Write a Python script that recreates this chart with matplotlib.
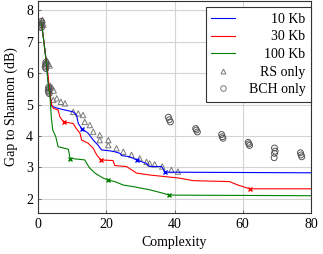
import matplotlib
matplotlib.use("Agg")
import matplotlib.pyplot as plt
from matplotlib.lines import Line2D

plt.rcParams['font.family'] = ['Liberation Serif', 'DejaVu Serif']
plt.rcParams['font.size'] = 10

# ---- data ----
blue_x = [1.0, 1.5, 2.5, 2.8, 3.3, 4.0, 5.9, 10.3, 11.3, 11.8, 12.8, 14.7, 16.2, 17.6, 18.6,
          21.0, 22.5, 24.0, 24.5, 26.9, 28.9, 31.8, 32.7, 36.2, 37.3, 80.0]
blue_y = [7.6, 7.2, 6.3, 5.9, 5.5, 4.95, 4.88, 4.77, 4.67, 4.40, 4.24, 4.09, 3.87, 3.71, 3.56,
          3.53, 3.50, 3.45, 3.38, 3.34, 3.24, 3.13, 3.03, 3.03, 2.85, 2.83]

red_x = [1.0, 1.5, 2.5, 3.0, 3.3, 4.0, 4.5, 5.9, 6.4, 7.5, 10.3, 11.2, 12.3, 12.8, 14.7, 16.2,
         17.2, 18.4, 22.0, 22.5, 25.9, 28.9, 32.7, 41.5, 45.4, 56.1, 58.6, 62.0, 80.0]
red_y = [7.6, 7.2, 6.3, 5.9, 5.5, 5.0, 4.88, 4.83, 4.61, 4.45, 4.40, 4.24, 4.09, 3.87, 3.77, 3.61,
         3.40, 3.24, 3.22, 3.06, 3.03, 2.82, 2.76, 2.66, 2.58, 2.55, 2.44, 2.32, 2.32]

green_x = [1.0, 1.5, 2.5, 3.0, 3.5, 3.9, 4.3, 5.2, 5.9, 8.9, 9.4, 13.7, 15.0, 16.7, 19.1, 20.6,
           22.5, 25.0, 27.9, 32.7, 36.6, 38.3, 80.0]
green_y = [7.6, 7.2, 6.3, 5.6, 5.3, 4.6, 4.2, 3.98, 3.66, 3.58, 3.29, 3.24, 3.0, 2.82, 2.66, 2.60,
           2.55, 2.44, 2.39, 2.29, 2.18, 2.12, 2.10]

blue_mx = [12.8, 28.9, 37.3]
blue_my = [4.24, 3.24, 2.85]
red_mx = [7.5, 18.4, 62.0]
red_my = [4.45, 3.24, 2.32]
green_mx = [9.4, 20.6, 38.3]
green_my = [3.28, 2.60, 2.12]

rs_x = [1.0, 1.3, 1.6, 2.6, 3.0, 3.4, 3.6, 4.1, 4.6, 4.5, 5.5, 6.7, 7.9, 10.3, 11.8, 13.2,
        13.7, 15.2, 16.2, 18.1, 18.1, 20.6, 20.6, 23.0, 25.0, 27.4, 29.8, 31.8, 32.7, 34.2,
        36.4, 39.1, 41.0]
rs_y = [7.6, 7.7, 7.55, 6.4, 6.3, 6.25, 5.6, 5.55, 5.45, 5.15, 5.2, 5.09, 5.04, 4.77, 4.72, 4.67,
        4.45, 4.35, 4.14, 4.03, 3.87, 3.87, 3.71, 3.61, 3.50, 3.40, 3.29, 3.18, 3.13, 3.10,
        3.03, 2.92, 2.87]

bch_x = [0.8, 0.9, 1.0, 1.1, 1.0, 2.1, 2.2, 2.3, 2.4, 2.3, 3.0, 3.1, 3.2, 3.3, 3.1,
         38.2, 38.5, 38.8, 46.2, 46.4, 46.7, 53.8, 54.0, 54.2, 61.6, 61.8, 62.0,
         69.3, 69.5, 69.3, 69.2, 76.9, 77.1, 77.3]
bch_y = [7.5, 7.55, 7.65, 7.6, 7.45, 6.2, 6.25, 6.35, 6.3, 6.15, 5.45, 5.55, 5.5, 5.35, 5.4,
         4.6, 4.52, 4.45, 4.24, 4.19, 4.13, 4.05, 3.98, 3.93, 3.8, 3.75, 3.7,
         3.62, 3.52, 3.45, 3.31, 3.47, 3.40, 3.34]

labels = ["10 Kb", "30 Kb", "100 Kb", "RS only", "BCH only"]

# ---- figure ----
fig = plt.figure(figsize=(3.23, 2.54), dpi=100)
ax = fig.add_axes([38 / 323, 1 - 213 / 254, (311 - 38) / 323, (213 - 1) / 254])

grey = '#7a7a7a'
ax.scatter(rs_x, rs_y, marker='^', s=15, facecolors='none', edgecolors=grey, linewidths=0.7, zorder=2)
ax.scatter(bch_x, bch_y, marker='o', s=18, facecolors='none', edgecolors='#555555', linewidths=0.7, zorder=2)

ax.plot(blue_x, blue_y, color='#0000ff', lw=0.8, zorder=3)
ax.plot(red_x, red_y, color='#ff0000', lw=0.8, zorder=3)
ax.plot(green_x, green_y, color='#008000', lw=0.8, zorder=3)
ax.plot(blue_mx, blue_my, ls='none', marker='x', ms=3.5, mew=1.0, color='#0000ff', zorder=4)
ax.plot(red_mx, red_my, ls='none', marker='x', ms=3.5, mew=1.0, color='#ff0000', zorder=4)
ax.plot(green_mx, green_my, ls='none', marker='x', ms=3.5, mew=1.0, color='#008000', zorder=4)

ax.set_xlim(0, 80)
ax.set_ylim(1.55, 8.3)
ax.set_xticks([0, 20, 40, 60, 80])
ax.set_yticks([2, 3, 4, 5, 6, 7, 8])
ax.grid(True, color='#d3d3d3', lw=0.8)
ax.set_axisbelow(True)
ax.tick_params(direction='in', length=2.5, width=0.6, color='#555555', labelsize=10)
for s in ax.spines.values():
    s.set_linewidth(0.8)
    s.set_color('#333333')
ax.set_xlabel("Complexity", labelpad=4)
ax.set_ylabel("Gap to Shannon (dB)", labelpad=6)

handles = [
    Line2D([], [], color='#0000ff', lw=0.8),
    Line2D([], [], color='#ff0000', lw=0.8),
    Line2D([], [], color='#008000', lw=0.8),
    Line2D([], [], ls='none', marker='^', ms=3.5, mfc='none', mec=grey, mew=0.7),
    Line2D([], [], ls='none', marker='o', ms=4, mfc='none', mec=grey, mew=0.7),
]
leg = ax.legend(handles, labels, loc='upper right', bbox_to_anchor=(1.0, 0.97),
                borderaxespad=0, fancybox=False, framealpha=1, edgecolor='#333333',
                handlelength=1.7, handletextpad=1.0, labelspacing=0.33, borderpad=0.4,
                fontsize=10)
leg.get_frame().set_linewidth(0.8)

# right-align legend texts
fig.canvas.draw()
renderer = fig.canvas.get_renderer()
exts = [t.get_window_extent(renderer) for t in leg.get_texts()]
right = max(e.x1 for e in exts)
for t, e in zip(leg.get_texts(), exts):
    t.set_alpha(0)
    fig.text(right, e.y0, t.get_text(), ha='right', va='bottom', fontsize=10,
             transform=None, zorder=10)

fig.savefig("out.png", dpi=100)
